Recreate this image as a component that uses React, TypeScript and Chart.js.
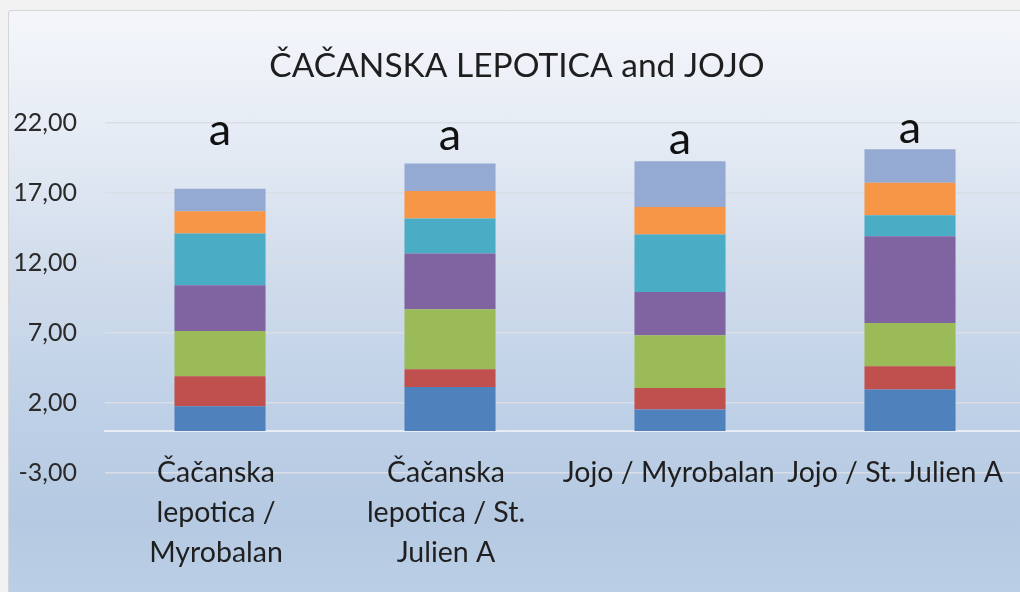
import React, { useEffect, useRef } from "react";
import { Chart, registerables } from "chart.js";

Chart.register(...registerables);

const chartTitle = "ČAČANSKA LEPOTICA and JOJO";
const categories: string[][] = [
  ["Čačanska", "lepotica /", "Myrobalan"],
  ["Čačanska", "lepotica / St.", "Julien A"],
  ["Jojo / Myrobalan  "],
  ["Jojo / St. Julien A   "],
];
const tickValues = [-3, 2, 7, 12, 17, 22];

const series1 = [1.76, 3.14, 1.53, 2.96];
const series2 = [2.15, 1.27, 1.54, 1.66];
const series3 = [3.23, 4.28, 3.77, 3.09];
const series4 = [3.27, 3.98, 3.09, 6.2];
const series5 = [3.69, 2.5, 4.1, 1.5];
const series6 = [1.59, 1.97, 1.97, 2.33];
const series7 = [1.62, 1.97, 3.26, 2.38];

const letterLabels = ["a", "a", "a", "a"];
const letterY = [20.4, 20.1, 19.8, 20.55];

const FONT = "Lato, 'Open Sans', sans-serif";

export default function App() {
  const ref = useRef<HTMLCanvasElement | null>(null);

  useEffect(() => {
    if (!ref.current) return;
    const colors = ["#4f81bd", "#c0504d", "#9bbb59", "#8064a2", "#4bacc6", "#f79646", "#94aad2"];
    const all = [series1, series2, series3, series4, series5, series6, series7];
    const overlay = {
      id: "overlay",
      afterDraw(chart: any) {
        const ctx = chart.ctx;
        ctx.save();
        ctx.fillStyle = "#1e1e1e";
        ctx.font = `33.5px ${FONT}`;
        ctx.textAlign = "center";
        ctx.textBaseline = "alphabetic";
        ctx.fillText(chartTitle, 517, 77);
        ctx.font = `45px ${FONT}`;
        ctx.fillStyle = "#111";
        letterLabels.forEach((t, i) => {
          const x = chart.scales.x.getPixelForValue(i);
          const y = chart.scales.y.getPixelForValue(letterY[i]);
          ctx.fillText(t, x, y);
        });
        ctx.restore();
      },
    };
    const chart = new Chart(ref.current, {
      type: "bar",
      data: {
        labels: categories as any,
        datasets: all.map((d, i) => ({
          label: `Series ${i + 1}`,
          data: d,
          backgroundColor: colors[i],
          borderWidth: 0,
          categoryPercentage: 1,
          barPercentage: 0.396,
        })),
      },
      options: {
        animation: false,
        responsive: false,
        layout: { padding: { top: 123, bottom: 119, left: 0, right: 35 } },
        plugins: { legend: { display: false }, tooltip: { enabled: false }, title: { display: false } },
        scales: {
          x: {
            stacked: true,
            position: { y: 0 } as any,
            grid: { display: false, drawTicks: false },
            border: { display: true, color: "#e8edf4", width: 2 },
            ticks: {
              padding: 22,
              labelOffset: -4,
              color: "#1f1f1f",
              font: { family: FONT, size: 28.5, lineHeight: 1.4 },
              maxRotation: 0,
              autoSkip: false,
            },
          },
          y: {
            stacked: true,
            min: -3,
            max: 22,
            afterBuildTicks: (scale: any) => {
              scale.ticks = tickValues.map((v) => ({ value: v }));
            },
            afterFit: (scale: any) => {
              scale.width = 105;
            },
            grid: { color: "#d9dee7", lineWidth: 1.5, drawTicks: false },
            border: { display: false },
            ticks: {
              padding: 28,
              color: "#2a2a2a",
              font: { family: FONT, size: 25 },
              callback: (v: any) => Number(v).toFixed(2).replace(".", ","),
            },
          },
        },
      },
      plugins: [overlay],
    });
    return () => chart.destroy();
  }, []);

  return (
    <div
      style={{
        position: "fixed",
        left: 0,
        top: 0,
        width: 1020,
        height: 592,
        overflow: "hidden",
        background: "#f2f2f2",
      }}
    >
      <div
        style={{
          position: "absolute",
          left: 8,
          top: 10,
          width: 1060,
          height: 600,
          border: "1px solid #d3d5d9",
          borderRadius: 3,
          background:
            "linear-gradient(to bottom, #f4f6fa 0%, #e6ecf5 20%, #cfdbeb 45%, #bccfe6 70%, #b5c9e2 85%, #bcd0e7 100%)",
        }}
      />
      <canvas
        ref={ref}
        width={1060}
        height={592}
        style={{ position: "absolute", left: 0, top: 0 }}
      />
    </div>
  );
}
